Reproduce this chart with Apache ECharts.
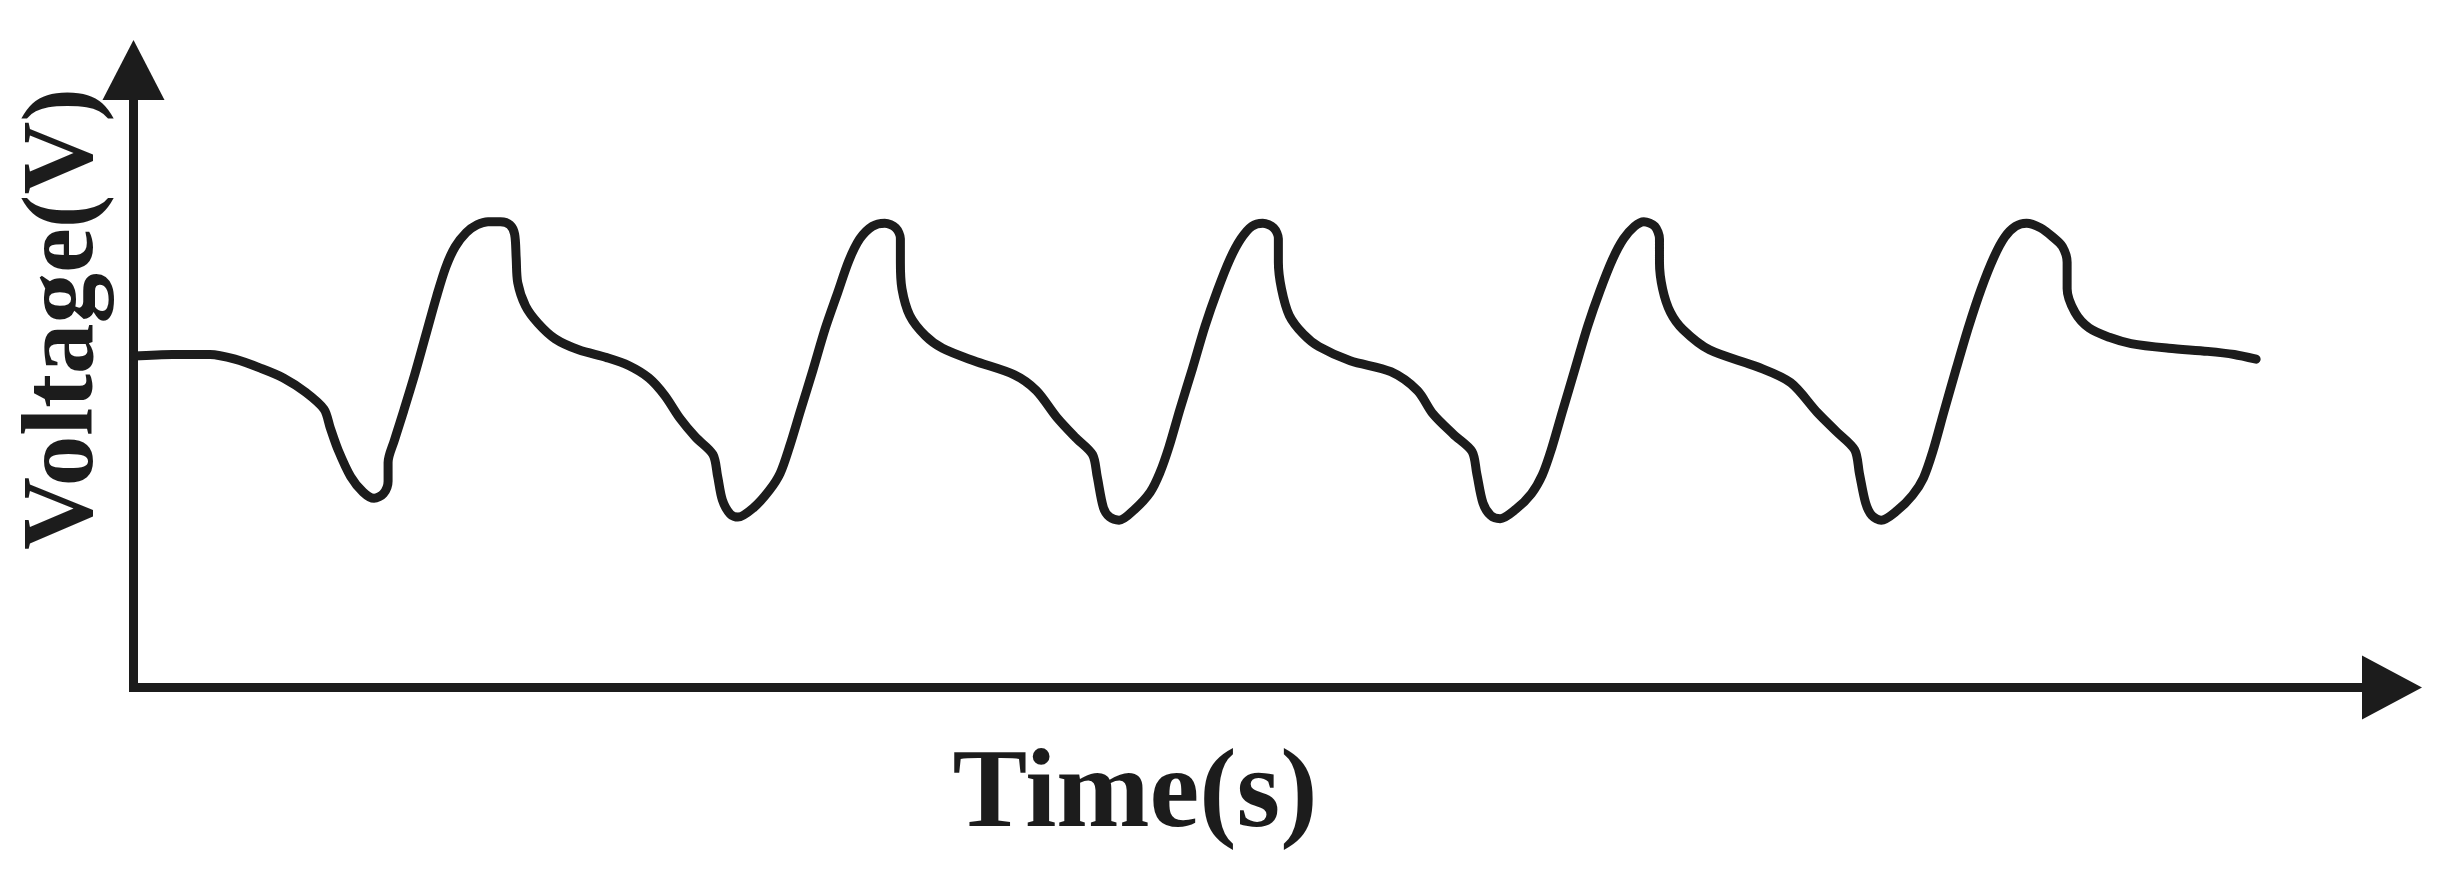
<!DOCTYPE html>
<html>
<head>
<meta charset="utf-8">
<title>Voltage vs Time</title>
<script src="https://cdn.jsdelivr.net/npm/echarts@6/dist/echarts.min.js"></script>
<style>
  html, body { margin: 0; padding: 0; background: #fff; }
  #main { width: 2449px; height: 871px; }
</style>
</head>
<body>
<div id="main"></div>
<script>
// waveform (time in s, voltage in V, arbitrary scale)
var time = [
  0.00, 0.25, 0.49, 0.65, 0.82, 0.96, 1.10, 1.22, 1.26, 1.31, 1.39, 1.47, 1.54, 1.60, 1.63, 1.63,
  1.67, 1.73, 1.80, 1.87, 1.94, 2.00, 2.06, 2.13, 2.20, 2.27, 2.35, 2.41, 2.44, 2.45, 2.46,
  2.51, 2.59, 2.70, 2.85, 3.03, 3.17, 3.30, 3.40, 3.50, 3.60, 3.71, 3.74, 3.77, 3.82, 3.87,
  3.97, 4.07, 4.14, 4.20, 4.27, 4.35, 4.43, 4.51, 4.58, 4.65, 4.73, 4.81, 4.88, 4.91, 4.91,
  4.92, 4.97, 5.07, 5.18, 5.38, 5.64, 5.78, 5.91, 6.03, 6.14, 6.17, 6.21, 6.25, 6.31,
  6.41, 6.51, 6.57, 6.63, 6.70, 6.78, 6.86, 6.94, 7.02, 7.09, 7.16, 7.23, 7.30, 7.33, 7.33,
  7.35, 7.40, 7.49, 7.59, 7.79, 8.05, 8.22, 8.32, 8.45, 8.57, 8.60, 8.64, 8.69, 8.75,
  8.85, 8.95, 9.02, 9.08, 9.15, 9.23, 9.31, 9.39, 9.47, 9.54, 9.61, 9.67, 9.74, 9.77, 9.77,
  9.79, 9.84, 9.92, 10.09, 10.40, 10.61, 10.78, 10.90, 11.02, 11.05, 11.09, 11.13, 11.19,
  11.29, 11.39, 11.46, 11.52, 11.59, 11.67, 11.75, 11.83, 11.91, 11.98, 12.05, 12.12, 12.21,
  12.29, 12.35, 12.38, 12.38, 12.43, 12.52, 12.65, 12.79, 13.03, 13.28, 13.45, 13.59
];
var voltage = [
  2.12, 2.13, 2.13, 2.10, 2.04, 1.98, 1.89, 1.78, 1.66, 1.52, 1.35, 1.25, 1.21, 1.24, 1.32, 1.44,
  1.58, 1.77, 2.00, 2.25, 2.50, 2.69, 2.82, 2.91, 2.96, 2.98, 2.98, 2.96, 2.90, 2.75, 2.59,
  2.44, 2.33, 2.23, 2.16, 2.11, 2.06, 1.98, 1.87, 1.72, 1.60, 1.49, 1.35, 1.20, 1.11, 1.09,
  1.15, 1.26, 1.37, 1.54, 1.77, 2.03, 2.30, 2.53, 2.73, 2.87, 2.95, 2.97, 2.94, 2.87, 2.72,
  2.55, 2.38, 2.25, 2.17, 2.09, 2.00, 1.90, 1.73, 1.60, 1.49, 1.35, 1.15, 1.09, 1.07,
  1.14, 1.25, 1.37, 1.54, 1.78, 2.04, 2.31, 2.54, 2.74, 2.87, 2.95, 2.97, 2.94, 2.87, 2.72,
  2.55, 2.38, 2.26, 2.18, 2.09, 2.02, 1.90, 1.75, 1.62, 1.51, 1.37, 1.18, 1.10, 1.08,
  1.14, 1.24, 1.36, 1.53, 1.77, 2.04, 2.31, 2.54, 2.74, 2.87, 2.95, 2.98, 2.95, 2.87, 2.72,
  2.55, 2.40, 2.29, 2.16, 2.05, 1.95, 1.76, 1.64, 1.52, 1.37, 1.18, 1.10, 1.07,
  1.13, 1.23, 1.34, 1.51, 1.76, 2.04, 2.31, 2.55, 2.75, 2.88, 2.95, 2.97, 2.94,
  2.88, 2.82, 2.72, 2.55, 2.40, 2.30, 2.24, 2.20, 2.17, 2.15, 2.13, 2.10
];

var timeMax = 14.46;
var voltageMax = 3.95;

var ink = '#1c1c1c';
var points = time.map(function (t, i) { return [t, voltage[i]]; });

var myChart = echarts.init(document.getElementById('main'));
myChart.setOption({
  backgroundColor: '#ffffff',
  animation: false,
  grid: {
    left: 133.5,
    right: 57,
    top: 70,
    bottom: 183.5,
    containLabel: false
  },
  xAxis: {
    type: 'value',
    min: 0,
    max: timeMax,
    axisLine: {
      show: true,
      symbol: ['none', 'triangle'],
      symbolSize: [64, 60],
      lineStyle: { color: ink, width: 9, cap: 'square' }
    },
    axisTick: { show: false },
    axisLabel: { show: false },
    splitLine: { show: false }
  },
  yAxis: {
    type: 'value',
    min: 0,
    max: voltageMax,
    axisLine: {
      show: true,
      symbol: ['none', 'triangle'],
      symbolSize: [62, 60],
      lineStyle: { color: ink, width: 9, cap: 'square' }
    },
    axisTick: { show: false },
    axisLabel: { show: false },
    splitLine: { show: false }
  },
  graphic: [
    {
      type: 'text',
      x: 66,
      y: 319,
      rotation: Math.PI / 2,
      style: {
        text: 'Voltage(V)',
        align: 'center',
        verticalAlign: 'middle',
        font: 'bold 101px "Liberation Serif"',
        fill: ink
      }
    },
    {
      type: 'text',
      x: 1135,
      y: 797,
      style: {
        text: 'Time(s)',
        align: 'center',
        verticalAlign: 'middle',
        font: 'bold 112px "Liberation Serif"',
        fill: ink
      }
    }
  ],
  series: [
    {
      name: 'Voltage',
      type: 'line',
      data: points,
      showSymbol: false,
      smooth: 0.3,
      lineStyle: { color: ink, width: 9, join: 'round', cap: 'round' }
    }
  ]
});
window.addEventListener('resize', function () {
  myChart.resize();
});
</script>
</body>
</html>
